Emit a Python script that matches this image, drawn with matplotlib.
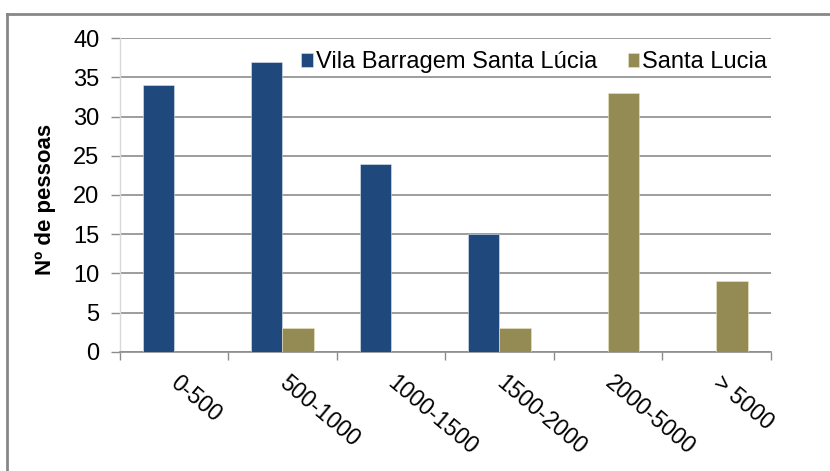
import matplotlib
matplotlib.use("Agg")
import matplotlib.pyplot as plt
import matplotlib.transforms as transforms
from matplotlib.lines import Line2D
import numpy as np

plt.rcParams['font.family'] = ['Liberation Sans', 'DejaVu Sans']

categories = ['0-500', '500-1000', '1000-1500', '1500-2000', '2000-5000', '> 5000']
vila = [34, 37, 24, 15, 0, 0]
santa = [0, 3, 0, 3, 33, 9]
series_names = ['Vila Barragem Santa Lúcia', 'Santa Lucia']
yticks = [0, 5, 10, 15, 20, 25, 30, 35, 40]

color1, color2 = '#1F497D', '#948A54'
grid_c = '#8c8c8c'

fig = plt.figure(figsize=(8.3, 4.71), dpi=100)
ax = fig.add_axes([0.1442, 0.2527, 0.7844, 0.6666])

x = np.arange(len(categories))
w = 0.2885
ax.bar(x - w / 2, vila, width=w, color=color1, edgecolor='#dfe6f0', linewidth=0.4,
       label=series_names[0], zorder=3)
ax.bar(x + w / 2, santa, width=w, color=color2, edgecolor='#ece6c4', linewidth=0.4,
       label=series_names[1], zorder=3)

ax.set_xlim(-0.5, len(categories) - 0.5)
ax.set_ylim(0, 40)
ax.set_yticks(yticks)
ax.yaxis.grid(True, color=grid_c, linewidth=1.2)
ax.set_axisbelow(True)

for s in ['top', 'right']:
    ax.spines[s].set_visible(False)
ax.spines['left'].set_color('#d9d9d9')
ax.spines['left'].set_linewidth(1.0)
ax.spines['bottom'].set_color(grid_c)
ax.spines['bottom'].set_linewidth(1.2)

# category boundary ticks
ax.set_xticks(np.arange(len(categories) + 1) - 0.5)
ax.set_xticklabels([])
ax.tick_params(axis='x', length=6, width=1, color=grid_c)
ax.tick_params(axis='y', length=6.5, width=1, color=grid_c, labelsize=17, pad=8)

# rotated category labels
offset = transforms.ScaledTranslation(7 / 100, -19 / 100, fig.dpi_scale_trans)
trans = transforms.blended_transform_factory(ax.transData, ax.transAxes) + offset
for i, lab in enumerate(categories):
    ax.text(i, 0, lab, transform=trans, rotation=-40, rotation_mode='anchor',
            ha='left', va='top', fontsize=16.5)

fig.text(45 / 830, 1 - 199 / 471, 'Nº de pessoas', rotation=90, ha='center', va='center',
         fontsize=16, fontweight='bold')

ax.legend(loc='upper right', bbox_to_anchor=(1.012, 0.995), ncol=2, frameon=False,
          fontsize=17, handlelength=0.5, handleheight=0.5, handletextpad=0.1,
          columnspacing=1.3, borderaxespad=0.1)

# outer chart border (top and left only)
fig.add_artist(Line2D([7 / 830, 1], [1 - 14 / 471, 1 - 14 / 471], transform=fig.transFigure,
                      color='#878787', linewidth=2))
fig.add_artist(Line2D([7 / 830, 7 / 830], [0, 1 - 14 / 471], transform=fig.transFigure,
                      color='#878787', linewidth=2))

fig.savefig('out.png', dpi=100)
